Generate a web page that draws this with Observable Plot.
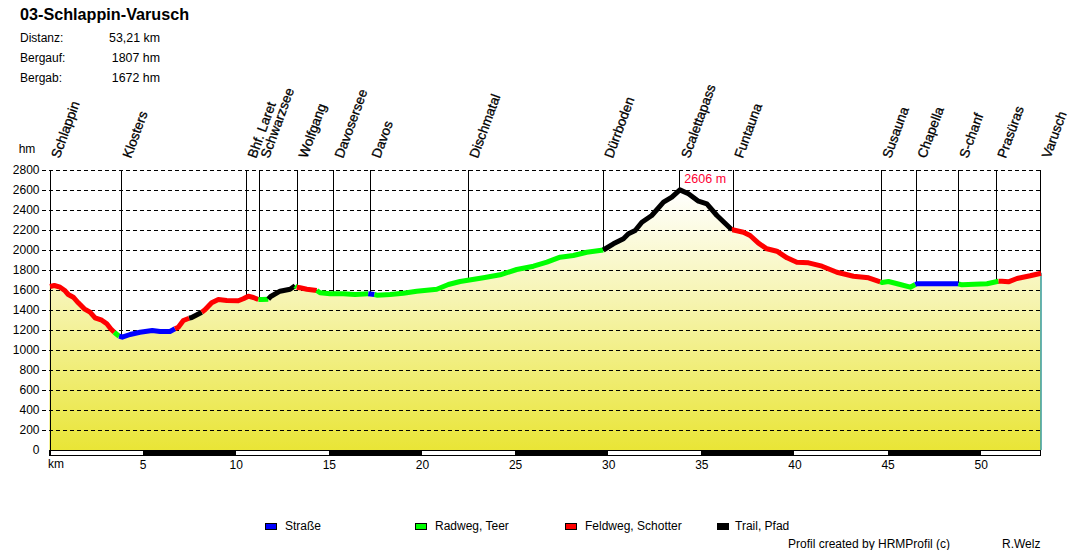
<!DOCTYPE html>
<html>
<head>
<meta charset="utf-8">
<script src="https://cdn.jsdelivr.net/npm/d3@7"></script>
<script src="https://cdn.jsdelivr.net/npm/@observablehq/plot@0.6"></script>
<style>
html,body{margin:0;padding:0;background:#fff;overflow:hidden}
#page{position:relative;width:1090px;height:550px;font-family:"Liberation Sans",Arial,sans-serif;font-size:12px;color:#000}
#page svg{position:absolute;left:0;top:0}
.t{position:absolute;white-space:nowrap;line-height:14px}
.sw{position:absolute;width:10px;height:5px;border:1px solid #000}
</style>
</head>
<body>
<div id="page"></div>
<script>
const title = "03-Schlappin-Varusch";
const statLabels = ["Distanz:", "Bergauf:", "Bergab:"];
const statValues = ["53,21 km", "1807 hm", "1672 hm"];

const km = [0,0.23,0.54,0.81,0.98,1.25,1.52,1.84,2.15,2.42,2.78,3.05,3.26,3.45,
  3.71,
  3.88,4.30,4.83,5.49,5.91,6.44,6.71,
  6.89,7.16,7.47,
  7.61,8.15,
  8.32,8.68,9.04,9.49,10.11,10.38,10.65,10.92,11.19,
  11.37,11.72,
  11.85,12.35,12.89,13.16,
  13.25,
  13.43,13.79,14.32,
  14.50,15.04,15.75,16.38,17.09,
  17.42,
  17.55,18.26,18.97,19.69,20.77,21.39,22.02,23.27,24.17,25.06,25.96,26.68,27.39,28.10,28.82,29.71,
  30.25,30.79,31.06,31.42,31.78,32.31,32.94,33.39,33.82,34.28,34.82,35.27,35.81,36.61,
  36.64,37.23,37.59,38.04,38.49,39.03,39.57,40.10,40.73,41.45,42.25,43.14,43.95,44.58,
  44.67,45.02,45.65,46.19,46.46,
  46.55,48.78,
  48.96,50.31,50.93,
  51.11,51.46,51.92,52.63,53.21];
const hm = [1640,1650,1633,1597,1560,1533,1477,1417,1383,1327,1303,1267,1217,1183,
  1143,
  1133,1160,1183,1200,1190,1190,1217,
  1233,1300,1323,
  1330,1383,
  1407,1477,1510,1500,1497,1517,1543,1530,1510,
  1510,1513,
  1540,1593,1613,1647,
  1633,
  1627,1613,1600,
  1577,1567,1567,1560,1567,
  1560,
  1553,1560,1573,1593,1613,1660,1690,1727,1757,1810,1843,1883,1933,1950,1983,2005,
  2067,2117,2167,2200,2283,2350,2483,2533,2606,2567,2493,2467,2350,2207,
  2207,2183,2150,2073,2017,1993,1927,1883,1877,1843,1783,1743,1727,1687,
  1680,1690,1660,1633,1660,
  1667,1667,
  1657,1667,1693,
  1693,1687,1720,1747,1773];

const surfaces = ["Straße", "Radweg, Teer", "Feldweg, Schotter", "Trail, Pfad"];
const surfaceColors = ["#0000ff", "#00ff00", "#ff0000", "#000000"];
const runSurface = [2,1,0,2,3,2,1,3,1,2,1,0,1,3,2,1,0,1,2];
const runLength = [14,1,7,3,2,9,2,4,1,3,5,1,16,14,14,5,2,3,5];

const stopNames = ["Schlappin","Klosters","Bhf. Laret","Schwarzsee","Wolfgang","Davosersee","Davos","Dischmatal","Dürrboden","Scalettapass","Funtauna","Susauna","Chapella","S-chanf","Prasüras","Varusch"];
const stopKm = [0,3.84,10.55,11.25,13.29,15.22,17.21,22.45,29.7,33.82,36.68,44.63,46.51,48.76,50.8,53.19];
const stopHm = [1640,1133,1540,1510,1633,1567,1560,1700,2005,2606,2207,1680,1667,1667,1693,1773];

const yTicks = d3.range(0, 2801, 200);
const xTicks = [5,10,15,20,25,30,35,40,45,50];
const bandStart = [5,15,25,35,45];
const bandEnd = [10,20,30,40,50];
const totalKm = 53.21;
const peakLabel = "2606 m";

const profile = km.map((k, i) => ({km: k, hm: hm[i]}));
const segments = [];
let start = 0;
runLength.forEach((n, r) => {
  const from = r === 0 ? 0 : start - 1;
  for (let i = from; i < start + n; i++) segments.push({km: km[i], hm: hm[i], run: r, surface: surfaces[runSurface[r]]});
  start += n;
});
const stops = stopNames.map((n, i) => ({name: n, km: stopKm[i], hm: stopHm[i]}));
const font = '"Liberation Sans", Arial, sans-serif';

const plot = Plot.plot({
  width: 1090, height: 550,
  marginLeft: 50, marginRight: 49, marginTop: 170, marginBottom: 100,
  style: {fontFamily: font, fontSize: "12px", background: "transparent", overflow: "visible"},
  x: {domain: [0, totalKm], range: [49.5, 1040.5]},
  y: {domain: [0, 2800], range: [450, 170]},
  color: {domain: surfaces, range: surfaceColors},
  marks: [
    Plot.areaY(profile, {x: "km", y: "hm", fill: "url(#alt)"}),
    Plot.ruleY(yTicks.slice(1), {stroke: "#000", strokeWidth: 1, strokeDasharray: "4 3", x1: -0.4, x2: totalKm, shapeRendering: "crispEdges"}),
    Plot.ruleX([totalKm], {y1: 0, y2: 1773, stroke: "#008080", strokeWidth: 1.2}),
    Plot.ruleX(stops, {x: "km", y1: 2800, y2: "hm", stroke: "#000", strokeWidth: 1, shapeRendering: "crispEdges"}),
    Plot.rect([0], {x1: 0, x2: totalKm, y1: -50, y2: -5, fill: "#fff", stroke: "#000", strokeWidth: 1, shapeRendering: "crispEdges"}),
    Plot.rect(bandStart, {x1: d => d, x2: (d, i) => bandEnd[i], y1: -50, y2: -5, fill: "#000", shapeRendering: "crispEdges"}),
    Plot.ruleX([0], {y1: -50, y2: 2800, stroke: "#000", strokeWidth: 1, shapeRendering: "crispEdges"}),
    Plot.line(segments, {x: "km", y: "hm", z: "run", stroke: "surface", strokeWidth: 5, strokeLinecap: "butt", strokeLinejoin: "round", curve: "linear"}),
    Plot.axisY({ticks: yTicks, tickFormat: "d", tickSize: 0, tickPadding: 11, label: null, fontSize: 12, fill: "#000"}),
    Plot.axisX({ticks: xTicks, tickSize: 0, tickPadding: 0, dy: 10, label: null, fontSize: 12, fill: "#000"}),
    Plot.text(["km"], {x: [0], y: [0], dx: -2, dy: 14, textAnchor: "start", fontSize: 12, fill: "#000"}),
    Plot.text(["hm"], {x: [0], y: [2800], dx: -23, dy: -21, fontSize: 12, fill: "#000"}),
    Plot.text(stops, {x: "km", y: 2800, text: "name", rotate: -70, dx: 5.5, dy: -13, textAnchor: "start", fontSize: 13.5, fill: "#000", stroke: "#000", strokeWidth: 0.3}),
    Plot.text([peakLabel], {x: [33.82], y: [2606], dx: 4.5, dy: -11, textAnchor: "start", fontSize: 12.5, fill: "#ff0033"})
  ]
});

const ns = "http://www.w3.org/2000/svg";
const defs = document.createElementNS(ns, "defs");
defs.innerHTML = '<linearGradient id="alt" x1="0" y1="0" x2="0" y2="1">' +
  '<stop offset="0" stop-color="#ffffff"/><stop offset="0.43" stop-color="#f6f4b0"/><stop offset="1" stop-color="#e9e536"/></linearGradient>';
plot.prepend(defs);

const page = document.getElementById("page");
page.appendChild(plot);

function addText(txt, left, top, css) {
  const d = document.createElement("div");
  d.className = "t"; d.textContent = txt;
  d.style.left = left + "px"; d.style.top = top + "px";
  if (css) d.style.cssText += css;
  page.appendChild(d);
}
addText(title, 20, 6, "font-size:16.2px;font-weight:bold;line-height:16px");
statLabels.forEach((s, i) => {
  addText(s, 20, 31 + i * 20);
  addText(statValues[i], 0, 31 + i * 20, "left:auto;right:930px;font-size:12.4px");
});
const legendX = [265, 415, 565, 717];
const legendTextX = [285, 435, 585, 735];
const legendOrder = ["Straße", "Radweg, Teer", "Feldweg, Schotter", "Trail, Pfad"];
legendOrder.forEach((s, i) => {
  const sw = document.createElement("div");
  sw.className = "sw";
  sw.style.left = legendX[i] + "px"; sw.style.top = "523px";
  sw.style.background = surfaceColors[surfaces.indexOf(s)];
  page.appendChild(sw);
  addText(s, legendTextX[i], 519);
});
addText("Profil created by HRMProfil (c)", 788, 537);
addText("R.Welz", 1002, 537);
</script>
</body>
</html>
